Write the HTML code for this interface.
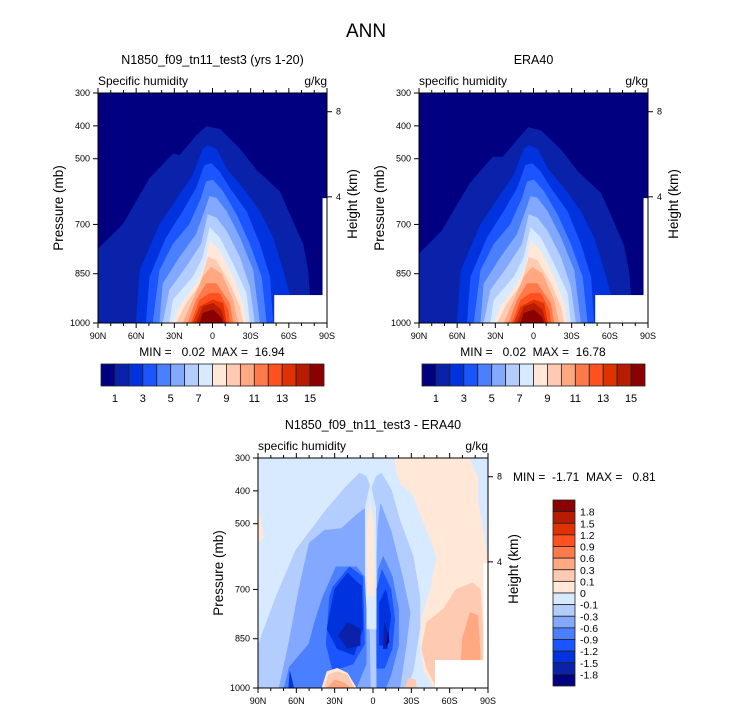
<!DOCTYPE html>
<html><head><meta charset="utf-8">
<style>
html,body{margin:0;padding:0;background:#fff;}
svg{display:block;font-family:"Liberation Sans",sans-serif;}
</style></head>
<body>
<svg id="fig" width="733" height="712" viewBox="0 0 733 712" xmlns="http://www.w3.org/2000/svg">
<text x="366" y="37" font-size="19" text-anchor="middle">ANN</text>
</svg>
<script>
// ---- data ----
const palette = ["#000080","#0a22aa","#0033dd","#1a55ff","#4a80ff","#82a9ff","#b3cdff","#d8eaff","#ffe8d8","#ffcab2","#ffa882","#ff7a4a","#ff5020","#e03200","#b81c00","#8b0000"];
const qLevels = ["1","3","5","7","9","11","13","15"];
const dLevels = ["1.8","1.5","1.2","0.9","0.6","0.3","0.1","0","-0.1","-0.3","-0.6","-0.9","-1.2","-1.5","-1.8"];
const latTicks = ["90N","60N","30N","0","30S","60S","90S"];
const latVals = [90,60,30,0,-30,-60,-90];
const presTicks = [300,400,500,700,850,1000];
const hTickLabels = ["8","4"];
const hTickPres = [357,616];
// filled contour polygons for model specific humidity: [lat, pressure]
const q1 = [[90,1000],[90,775],[70.3,700],[49.4,560],[31,485],[25.8,490],[12.7,430],[4.9,402],[-5.6,410],[-21.4,470],[-34.5,535],[-52.8,600],[-60.7,670],[-71.1,760],[-75,840],[-76.4,915],[-76.4,1000]];
const q2 = [[60,1000],[57,840],[41.5,700],[25.8,610],[15.3,550],[7.5,470],[3.5,460],[-3,470],[-10.9,530],[-24,590],[-37,660],[-47.5,740],[-55.4,840],[-60.7,915],[-60.7,1000]];
const q3 = [[52,1000],[49.4,860],[36.3,740],[23.2,660],[12.7,590],[6.2,520],[1,515],[-5.6,540],[-13.5,590],[-26.6,660],[-37,760],[-45,860],[-47.5,1000]];
const q4 = [[46.8,1000],[41.5,840],[31,760],[18,700],[8.8,620],[4.9,570],[-0.4,565],[-8.2,600],[-18.7,670],[-29.2,760],[-38.4,860],[-42.3,1000]];
const q5 = [[41.5,1000],[38.9,880],[25.8,800],[12.7,730],[6.2,660],[2.2,615],[-3,620],[-10.9,660],[-21.4,740],[-31.8,840],[-37,1000]];
const q6 = [[38.9,1000],[33.7,900],[20.6,830],[8.8,760],[3.5,670],[-3,680],[-10.9,720],[-21.4,800],[-29.2,890],[-33.1,1000]];
const q7 = [[33.7,1000],[31,930],[15.3,860],[7.5,800],[2.2,710],[-5.6,740],[-16,820],[-26.6,910],[-29.2,1000]];
const q8 = [[31,1000],[25.8,950],[12.7,880],[6.2,830],[2.2,750],[-5.6,780],[-16,860],[-24,940],[-26.6,1000]];
const q9 = [[28.4,1000],[20.6,940],[10,885],[3.5,800],[-3,810],[-13.5,880],[-21.4,950],[-24,1000]];
const q10 = [[23.2,1000],[15.3,930],[7.5,860],[1,830],[-7,850],[-16,930],[-20,1000]];
const q11 = [[19.3,1000],[12.7,930],[4.9,880],[-3,880],[-13.5,940],[-16,1000]];
const q12 = [[16.7,1000],[10,930],[2.2,910],[-5.6,910],[-12.2,960],[-13.5,1000]];
const q13 = [[15.3,1000],[10,950],[-0.4,930],[-8.2,940],[-10.9,1000]];
const q14 = [[12.7,1000],[7.5,950],[-0.4,940],[-7,960],[-9.6,1000]];
const q15 = [[10,1000],[7.5,970],[-0.4,960],[-7,985],[-8.2,1000]];
const qPolys = [q1,q2,q3,q4,q5,q6,q7,q8,q9,q10,q11,q12,q13,q14,q15];
// ERA40 slightly different top contour
const e1 = [[90,1000],[90,790],[72,720],[50,575],[32,495],[24,495],[12,440],[4,405],[-6,415],[-22,475],[-35,540],[-53,605],[-61,675],[-71,765],[-75,845],[-76.4,915],[-76.4,1000]];
const ePolys = [e1,q2,q3,q4,q5,q6,q7,q8,q9,q10,q11,q12,q13,q14,q15];
// difference patches: [colorIndex, polygon]
const dPatches = [
 [6,[[90,1000],[90,870],[76,723],[60.3,580],[36.7,458],[21,387],[10.5,346],[5.3,356],[1.3,397],[-2.6,356],[-6.6,346],[-14.4,397],[-21,489],[-31.5,601],[-36.7,723],[-36.7,815],[-31.5,947],[-26.3,1000]]],
 [8,[[-17,300],[-75,300],[-82,360],[-82,430],[-88,560],[-90,620],[-90,1000],[-48,1000],[-40,950],[-37,870],[-38,790],[-45,700],[-50,600],[-40,500],[-31,410],[-22,380],[-18,340]]],
 [9,[[-38,880],[-42,800],[-55,760],[-65,700],[-78,680],[-84,700],[-86,820],[-86,1000],[-50,1000],[-42,940]]],
 [10,[[-68,1000],[-70,850],[-76,770],[-82,780],[-84,900],[-84,1000]]],
 [8,[[90,460],[88,480],[86,540],[90,560]]],
 [5,[[73.5,1000],[66,865],[58,700],[50,560],[38,520],[25,515],[12,470],[5,450],[4,600],[3,800],[2,1000]]],
 [5,[[-3,1000],[-2,700],[-4,500],[-6,440],[-14,520],[-23,660],[-29,770],[-26,870],[-21,1000]]],
 [7,[[6,820],[6,450],[2,380],[-2,450],[-3,820]]],
 [8,[[4.5,720],[4.5,500],[2,438],[-0.5,500],[-1,720]]],
 [4,[[69.5,1000],[65.6,937],[49.9,865],[46,804],[39.4,723],[28.9,631],[13,631],[6.6,662],[5.3,764],[5.3,927],[13,1000]]],
 [3,[[36.7,866],[34,723],[31.5,693],[18.4,631],[8,662],[6.6,866],[15.7,927],[31.5,947]]],
 [2,[[36,820],[30,700],[20,650],[9,690],[8,820],[15,900],[28,880]]],
 [1,[[27,840],[20,800],[10,820],[10,870],[20,880]]],
 [4,[[-3,1000],[-3,720],[-4,640],[-8,600],[-15,660],[-20,760],[-20,870],[-14,960],[-10,1000]]],
 [3,[[-3,940],[-3,700],[-7,640],[-14,700],[-17,790],[-15,880],[-9,940]]],
 [2,[[-5,870],[-5,740],[-10,700],[-14,780],[-11,870]]],
 [1,[[-8,880],[-9,800],[-12,840],[-11,880]]],
 [0,[[-10.5,870],[-12,830],[-12.5,860]]],
 [2,[[66,1000],[65,950],[62,1000]]],
 [8,[[40,1000],[36,950],[28,940],[20,955],[13,1000]]],
 [9,[[38,1000],[35,960],[28,950],[20,960],[15,1000]]],
 [10,[[36,1000],[30,975],[22,985],[18,1000]]],
 [9,[[-25,1000],[-28,970],[-33,975],[-34,1000]]]
];

// ---- drawing ----
const NS="http://www.w3.org/2000/svg";
const svg=document.getElementById('fig');
function mk(tag,attrs,parent){const e=document.createElementNS(NS,tag);for(const k in attrs)e.setAttribute(k,attrs[k]);(parent||svg).appendChild(e);return e;}
function txt(x,y,s,size,anchor,parent,rot){const t=mk('text',{x:x,y:y,'font-size':size,'text-anchor':anchor||'middle'},parent);if(rot)t.setAttribute('transform','rotate(-90 '+x+' '+y+')');t.textContent=s;return t;}

function panel(name,x0,y0,w,h,bgColor,layers,titleTxt,leftTxt){
  const g=mk('g',{});
  
  
  const X=lat=>x0+(90-lat)/180*w;
  const Y=p=>y0+(p-300)/700*h;
  const clip=mk('clipPath',{id:name+'-clip'},g);
  mk('rect',{x:x0,y:y0,width:w,height:h},clip);
  const bg=mk('rect',{x:x0,y:y0,width:w,height:h,fill:bgColor},g);
  
  
  const cg=mk('g',{'clip-path':'url(#'+name+'-clip)'},g);
  layers.forEach(([ci,poly])=>{
    const pg=mk('polygon',{points:poly.map(q=>X(q[0]).toFixed(1)+','+Y(q[1]).toFixed(1)).join(' '),fill:palette[ci],stroke:palette[ci],'stroke-width':0.6,'stroke-linejoin':'round'},cg);
    
    
  });
  // missing data
  mk('rect',{x:X(-48.5),y:Y(915),width:X(-90)-X(-48.5)+1,height:Y(1000)-Y(915)+1,fill:'#fff'},cg);
  mk('rect',{x:X(-86.5),y:Y(620),width:X(-90)-X(-86.5)+1,height:Y(915)-Y(620),fill:'#fff'},cg);
  mk('rect',{x:x0,y:y0,width:w,height:h,fill:'none',stroke:'#000','stroke-width':1},g);
  for(let lat=90;lat>=-90;lat-=10){
    const major=lat%30===0, L=major?5:3;
    mk('line',{x1:X(lat),x2:X(lat),y1:y0+h,y2:y0+h+L,stroke:'#000','stroke-width':1},g);
    mk('line',{x1:X(lat),x2:X(lat),y1:y0,y2:y0-L,stroke:'#000','stroke-width':1},g);
  }
  latVals.forEach((v,i)=>{const t=txt(X(v),y0+h+16,latTicks[i],9,'middle',g);});
  presTicks.forEach(p=>{
    mk('line',{x1:x0,x2:x0-5,y1:Y(p),y2:Y(p),stroke:'#000'},g);
    const t=txt(x0-8,Y(p)+3,String(p),9,'end',g);
    
    
  });
  hTickPres.forEach((p,i)=>{
    mk('line',{x1:x0+w,x2:x0+w+5,y1:Y(p),y2:Y(p),stroke:'#000'},g);
    const t=txt(x0+w+9,Y(p)+3,hTickLabels[i],9,'start',g);
    
    
  });
  const tt=txt(x0+w/2,y0-29,titleTxt,12.5,'middle',g);
  
  
  const lt=txt(x0,y0-8,leftTxt,12,'start',g);
  
  
  const ut=txt(x0+w,y0-8,'g/kg',12,'end',g);
  
  
  const ya=txt(x0-35,y0+h/2,'Pressure (mb)',13.5,'middle',g,true);
  
  
  const ha=txt(x0+w+30,y0+h/2-4,'Height (km)',13.5,'middle',g,true);
  
  
  return {X,Y,g};
}
function toLayers(polys){return polys.map((p,i)=>[i+1,p]);}

panel('model-panel',98,93,229,230,palette[0],toLayers(qPolys),'N1850_f09_tn11_test3 (yrs 1-20)','Specific humidity');
panel('era40-panel',419,93,229,230,palette[0],toLayers(ePolys),'ERA40','specific humidity');
panel('diff-panel',258,458,230,230,palette[7],dPatches,'N1850_f09_tn11_test3 - ERA40','specific humidity');

let m1=txt(212,356,'MIN =   0.02  MAX =  16.94',12,'middle');

m1.setAttribute('style','white-space:pre');
let m2=txt(533,356,'MIN =   0.02  MAX =  16.78',12,'middle');

m2.setAttribute('style','white-space:pre');
let m3=txt(513,481,'MIN =  -1.71  MAX =   0.81',12,'start');

m3.setAttribute('style','white-space:pre');

function hbar(name,x0){
  const g=mk('g',{});
  
  
  const bw=(324-101)/16;
  palette.forEach((c,i)=>{
    const r=mk('rect',{x:x0+i*bw,y:364,width:bw,height:22,fill:c,stroke:'#222','stroke-width':0.8},g);
    
    
  });
  qLevels.forEach((s,i)=>{
    const t=txt(x0+(2*i+1)*bw,402,s,11,'middle',g);
    
    
  });
}
hbar('model-colorbar',101);
hbar('era40-colorbar',422);

(function(){
  const g=mk('g',{});
  
  
  const bh=(686-500)/16;
  for(let i=0;i<16;i++){
    const r=mk('rect',{x:553,y:500+i*bh,width:22,height:bh,fill:palette[15-i],stroke:'#222','stroke-width':0.8},g);
    
    
  }
  dLevels.forEach((s,i)=>{
    const t=txt(580,500+(i+1)*bh+4,s,10.5,'start',g);
    
    
  });
})();
</script>
</body></html>
